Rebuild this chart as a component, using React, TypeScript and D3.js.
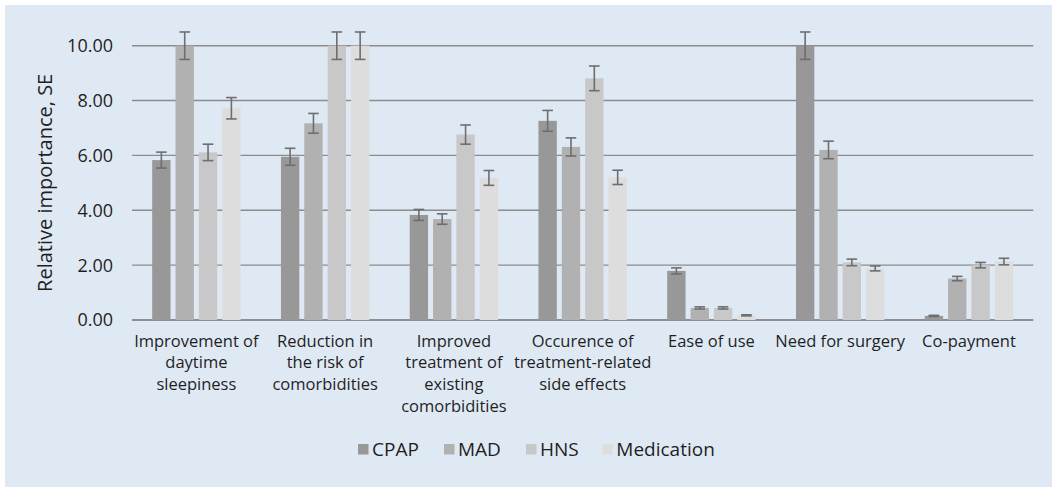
import React from "react";
import * as d3 from "d3";

const categories = [
  "Improvement of daytime sleepiness",
  "Reduction in the risk of comorbidities",
  "Improved treatment of existing comorbidities",
  "Occurence of treatment-related side effects",
  "Ease of use",
  "Need for surgery",
  "Co-payment",
];
const categoryLines = [
  ["Improvement of", "daytime", "sleepiness"],
  ["Reduction in", "the risk of", "comorbidities"],
  ["Improved", "treatment of", "existing", "comorbidities"],
  ["Occurence of", "treatment-related", "side effects"],
  ["Ease of use"],
  ["Need for surgery"],
  ["Co-payment"],
];
const series = ["CPAP", "MAD", "HNS", "Medication"];
const colors = ["#989898", "#b1b1b1", "#c8c8c8", "#dcdddc"];

const cpap = [5.83, 5.95, 3.83, 7.26, 1.79, 10.0, 0.15];
const mad = [10.0, 7.17, 3.68, 6.31, 0.44, 6.2, 1.51];
const hns = [6.11, 10.0, 6.76, 8.81, 0.44, 2.1, 2.0];
const medication = [7.72, 10.0, 5.18, 5.2, 0.17, 1.88, 2.13];

const cpapErr = [0.29, 0.31, 0.2, 0.38, 0.11, 0.5, 0.02];
const madErr = [0.5, 0.36, 0.19, 0.33, 0.04, 0.32, 0.08];
const hnsErr = [0.3, 0.5, 0.35, 0.45, 0.04, 0.12, 0.1];
const medicationErr = [0.39, 0.5, 0.27, 0.26, 0.02, 0.09, 0.12];

const yTicks = [0, 2, 4, 6, 8, 10];
const yTitle = "Relative importance, SE";

const values = [cpap, mad, hns, medication];
const errors = [cpapErr, madErr, hnsErr, medicationErr];

export default function App() {
  const W = 1052;
  const H = 487;
  const left = 132;
  const right = 1033.3;
  const top = 45.7;
  const bottom = 320;
  const font = "'Open Sans', sans-serif";

  const x0 = d3.scaleBand<string>().domain(categories).range([left, right]).padding(0);
  const x1 = d3
    .scaleBand<string>()
    .domain(series)
    .range([0, x0.bandwidth()])
    .paddingInner(0.214)
    .paddingOuter(0.865);
  const y = d3.scaleLinear().domain([0, 10]).range([bottom, top]);
  const fmt = d3.format(".2f");

  const legendX = [358, 444, 526, 602.3];
  const textColor = "#1f1f1f";

  return (
    <svg
      width={W}
      height={H}
      style={{ position: "absolute", left: 0, top: 0, fontFamily: font }}
    >
      <rect x={5} y={5} width={W - 5} height={H - 5} fill="#dfe9f4" />
      {yTicks.map((t) => (
        <g key={t}>
          <line
            x1={left}
            x2={right}
            y1={y(t)}
            y2={y(t)}
            stroke={t === 0 ? "#8e8e8e" : "#8c8c8c"}
            strokeWidth={t === 0 ? 2 : 1.4}
          />
          <text
            x={113}
            y={y(t)}
            dy="0.36em"
            textAnchor="end"
            fontSize={18}
            fill={textColor}
          >
            {fmt(t)}
          </text>
        </g>
      ))}
      <text
        transform={`translate(52,${(top + bottom) / 2}) rotate(-90)`}
        textAnchor="middle"
        fontSize={20}
        fill={textColor}
      >
        {yTitle}
      </text>
      {categories.map((c, ci) => (
        <g key={c} transform={`translate(${x0(c)},0)`}>
          {series.map((s, si) => {
            const v = values[si][ci];
            const e = errors[si][ci];
            const bx = x1(s)!;
            const cx = bx + x1.bandwidth() / 2;
            return (
              <g key={s}>
                <rect
                  x={bx}
                  y={y(v)}
                  width={x1.bandwidth()}
                  height={bottom - y(v)}
                  fill={colors[si]}
                />
                <line x1={cx} x2={cx} y1={y(v + e)} y2={y(v - e)} stroke="#6e6e6e" strokeWidth={1.6} />
                <line x1={cx - 5.3} x2={cx + 5.3} y1={y(v + e)} y2={y(v + e)} stroke="#6e6e6e" strokeWidth={1.6} />
                <line x1={cx - 5.3} x2={cx + 5.3} y1={y(v - e)} y2={y(v - e)} stroke="#6e6e6e" strokeWidth={1.6} />
              </g>
            );
          })}
          <text
            x={x0.bandwidth() / 2}
            y={346.5}
            textAnchor="middle"
            fontSize={16.5}
            fill={textColor}
          >
            {categoryLines[ci].map((l, li) => (
              <tspan key={li} x={x0.bandwidth() / 2} dy={li === 0 ? 0 : 21.8}>
                {l}
              </tspan>
            ))}
          </text>
        </g>
      ))}
      {series.map((s, si) => (
        <g key={s}>
          <rect x={legendX[si]} y={444} width={10.5} height={10.5} fill={colors[si]} />
          <text x={legendX[si] + 14} y={456} fontSize={19} fill={textColor}>
            {s}
          </text>
        </g>
      ))}
    </svg>
  );
}
